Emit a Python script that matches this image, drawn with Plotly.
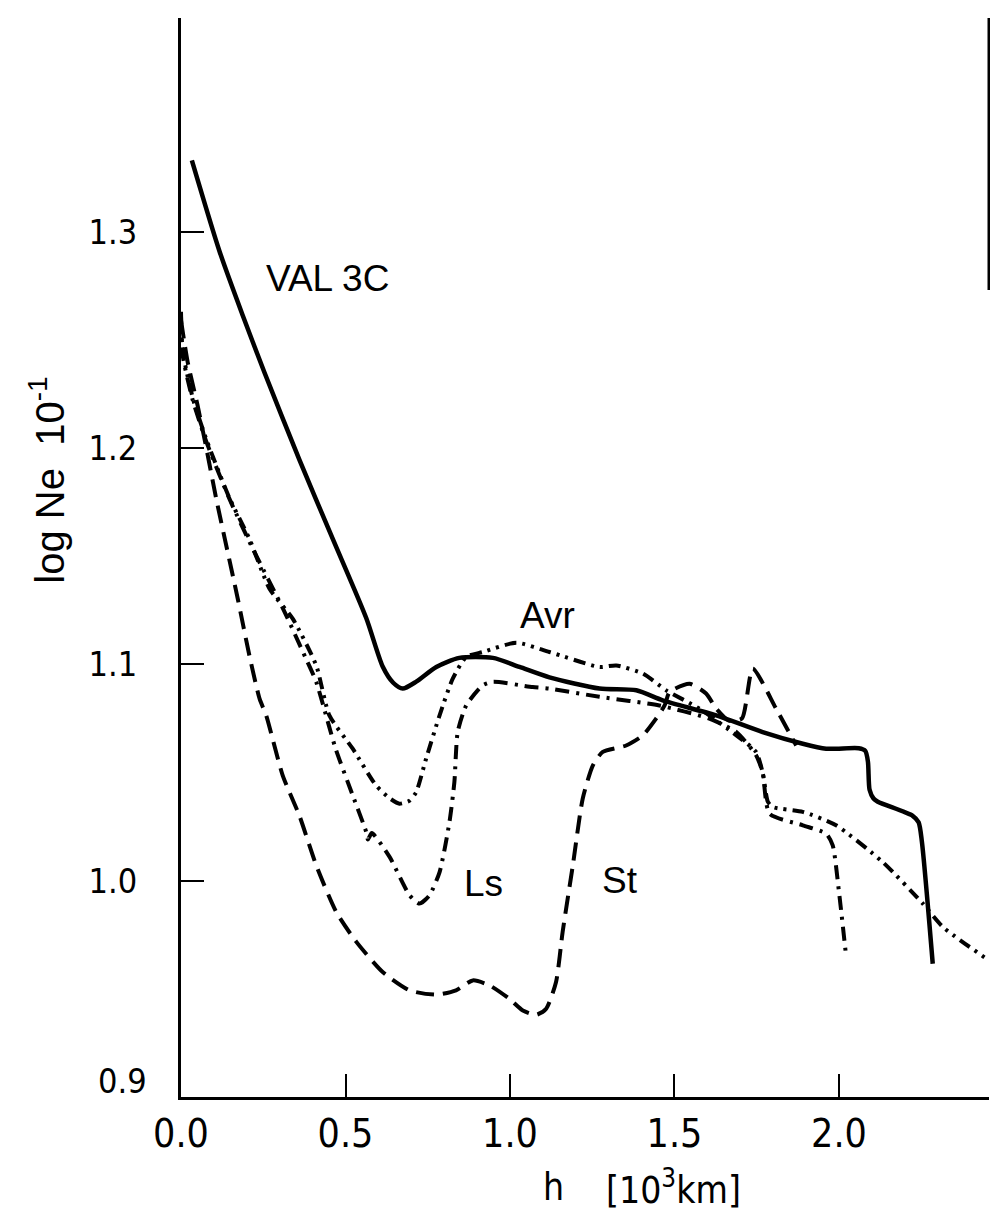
import plotly.graph_objects as go

# ---- data (h in 10^3 km, log Ne 10^-1) ----
val3c_h = [0.033, 0.117, 0.188, 0.254, 0.360, 0.461, 0.563, 0.613, 0.645, 0.674, 0.715, 0.776, 0.846, 0.948,
           1.029, 1.12, 1.272, 1.384, 1.464, 1.627, 1.768, 1.890, 1.961, 2.060, 2.080, 2.088, 2.093, 2.105, 2.118,
           2.224, 2.242, 2.252, 2.285]
val3c_v = [1.333, 1.291, 1.2612, 1.2348, 1.1945, 1.1581, 1.1214, 1.099, 1.0915, 1.0888, 1.092, 1.0988, 1.103, 1.103,
           1.0988, 1.094, 1.0888, 1.088, 1.0834, 1.0764, 1.0687, 1.0633, 1.061, 1.0612, 1.060, 1.055, 1.042, 1.038,
           1.0365, 1.030, 1.027, 1.018, 0.9616]

avr_h = [0.0, 0.005, 0.036, 0.077, 0.147, 0.208, 0.269, 0.34, 0.411, 0.451, 0.522, 0.593, 0.635, 0.664, 0.695,
         0.715, 0.745, 0.786, 0.826, 0.867, 0.917, 1.019, 1.12, 1.272, 1.323, 1.404, 1.475, 1.576, 1.688, 1.748,
         1.768, 1.784, 1.80, 1.89, 1.991, 2.133, 2.255, 2.316, 2.457]
avr_v = [1.263, 1.245, 1.223, 1.204, 1.177, 1.158, 1.135, 1.121, 1.0995, 1.0764, 1.061, 1.044, 1.038, 1.0356, 1.037,
         1.041, 1.0564, 1.0764, 1.0934, 1.1034, 1.1057, 1.110, 1.1057, 1.0988, 1.0995, 1.0957, 1.088, 1.0795, 1.0672,
         1.0595, 1.050, 1.0364, 1.034, 1.0318, 1.0256, 1.0086, 0.9894, 0.9786, 0.963]

ls_h = [0.0, 0.005, 0.036, 0.077, 0.147, 0.218, 0.31, 0.38, 0.411, 0.47, 0.522, 0.563, 0.568, 0.58, 0.634, 0.695,
        0.725, 0.755, 0.786, 0.816, 0.831, 0.841, 0.867, 0.917, 0.948, 1.069, 1.12, 1.272, 1.454, 1.606, 1.688,
        1.748, 1.768, 1.789, 1.89, 1.961, 1.981, 2.0, 2.022]
ls_v = [1.261, 1.243, 1.222, 1.203, 1.1766, 1.1535, 1.1258, 1.1026, 1.0919, 1.061, 1.0394, 1.0225, 1.019, 1.022,
        1.011, 0.9932, 0.9894, 0.9932, 1.004, 1.0271, 1.0456, 1.0687, 1.081, 1.0903, 1.0919, 1.0895, 1.0888, 1.085,
        1.081, 1.0749, 1.0687, 1.058, 1.050, 1.031, 1.0256, 1.0217, 1.0163, 0.9948, 0.9647]

st_h = [0.0, 0.02, 0.05, 0.077, 0.107, 0.173, 0.208, 0.239, 0.259, 0.309, 0.36, 0.411, 0.472, 0.533, 0.613, 0.695,
        0.776, 0.836, 0.887, 0.938, 0.998, 1.039, 1.08, 1.11, 1.14, 1.16, 1.191, 1.221, 1.252, 1.282, 1.353, 1.404,
        1.444, 1.47, 1.485, 1.546, 1.596, 1.627, 1.665, 1.705, 1.738, 1.809, 1.87]
st_v = [1.259, 1.24, 1.22, 1.20, 1.1766, 1.130, 1.104, 1.084, 1.0764, 1.0487, 1.030, 1.0071, 0.9855, 0.9717, 0.9578,
        0.9493, 0.9473, 0.9493, 0.9539, 0.9516, 0.9454, 0.940, 0.938, 0.9408, 0.9532, 0.9763, 1.0071, 1.0379, 1.0533,
        1.0595, 1.0625, 1.0672, 1.0749, 1.081, 1.0872, 1.091, 1.0865, 1.0795, 1.074, 1.075, 1.098, 1.0795, 1.0625]

x_ticks = [0.0, 0.5, 1.0, 1.5, 2.0]
x_ticklabels = ["0.0", "0.5", "1.0", "1.5", "2.0"]
y_ticks = [1.0, 1.1, 1.2, 1.3]
y_ticklabels = ["1.0", "1.1", "1.2", "1.3"]

curve_labels = [("VAL 3C", 0.444, 1.2783), ("Avr", 1.114, 1.1225), ("Ls", 0.919, 0.9986), ("St", 1.333, 1.0)]

NARROW = "DejaVu Sans Condensed, Liberation Sans Narrow, Liberation Sans, Arial, sans-serif"
SANS = "Liberation Sans, Arial, sans-serif"

fig = go.Figure()
fig.add_trace(go.Scatter(x=val3c_h, y=val3c_v, mode="lines",
                         line=dict(color="black", width=4.5, shape="spline", smoothing=0.7)))
fig.add_trace(go.Scatter(x=avr_h, y=avr_v, mode="lines",
                         line=dict(color="black", width=4, dash="12px,6px,3px,6px,3px,6px", shape="spline", smoothing=0.6)))
fig.add_trace(go.Scatter(x=ls_h, y=ls_v, mode="lines",
                         line=dict(color="black", width=4, dash="14px,7px,3px,7px", shape="spline", smoothing=0.6)))
fig.add_trace(go.Scatter(x=st_h, y=st_v, mode="lines",
                         line=dict(color="black", width=4, dash="18px,9px", shape="spline", smoothing=0.6)))

for txt, hx, vy in curve_labels:
    fig.add_annotation(x=hx, y=vy, xref="x", yref="y", text=txt, showarrow=False,
                       font=dict(family=SANS, size=37, color="black"))

# 0.9 label sits slightly above its tick in the original
fig.add_annotation(x=0, y=0.9, xref="paper", yref="y", text="0.9", showarrow=False, xanchor="right",
                   xshift=-32, yshift=16, font=dict(family=NARROW, size=34, color="black"))

# axis titles
fig.add_annotation(x=0.4455, y=-0.084, xref="paper", yref="paper", xanchor="left", yanchor="middle",
                   text="h", showarrow=False, font=dict(family=NARROW, size=37, color="black"))
fig.add_annotation(x=0.5235, y=-0.084, xref="paper", yref="paper", xanchor="left", yanchor="middle",
                   text="[10<sup>3</sup>km]", showarrow=False, font=dict(family=NARROW, size=37, color="black"))
fig.add_annotation(x=-0.166, y=0.572, xref="paper", yref="paper", xanchor="center", yanchor="middle",
                   textangle=-90, text="log Ne  10<sup>-1</sup>", showarrow=False,
                   font=dict(family=SANS, size=40, color="black"))

# right frame fragment
fig.add_shape(type="line", xref="paper", yref="paper", x0=1, x1=1, y0=0.748, y1=1,
              line=dict(color="black", width=3))

fig.update_layout(
    width=990, height=1216, margin=dict(l=181, r=1, t=18, b=119),
    paper_bgcolor="white", plot_bgcolor="white", showlegend=False,
    xaxis=dict(range=[0, 2.456], tickvals=x_ticks, ticktext=x_ticklabels, ticks="inside", ticklen=23,
               tickwidth=2, tickcolor="black", showline=True, linewidth=3, linecolor="black",
               showgrid=False, zeroline=False, ticklabelstandoff=0,
               tickfont=dict(family=NARROW, size=39, color="black")),
    yaxis=dict(range=[0.9, 1.3988], tickvals=y_ticks, ticktext=y_ticklabels, ticks="inside", ticklen=23,
               tickwidth=2, tickcolor="black", showline=True, linewidth=3, linecolor="black",
               showgrid=False, zeroline=False, ticklabelstandoff=34,
               tickfont=dict(family=NARROW, size=34, color="black")),
)

fig.write_html("out.html", config={"displayModeBar": False},
               post_script="document.body.style.margin='0px';document.body.style.overflow='hidden';")
